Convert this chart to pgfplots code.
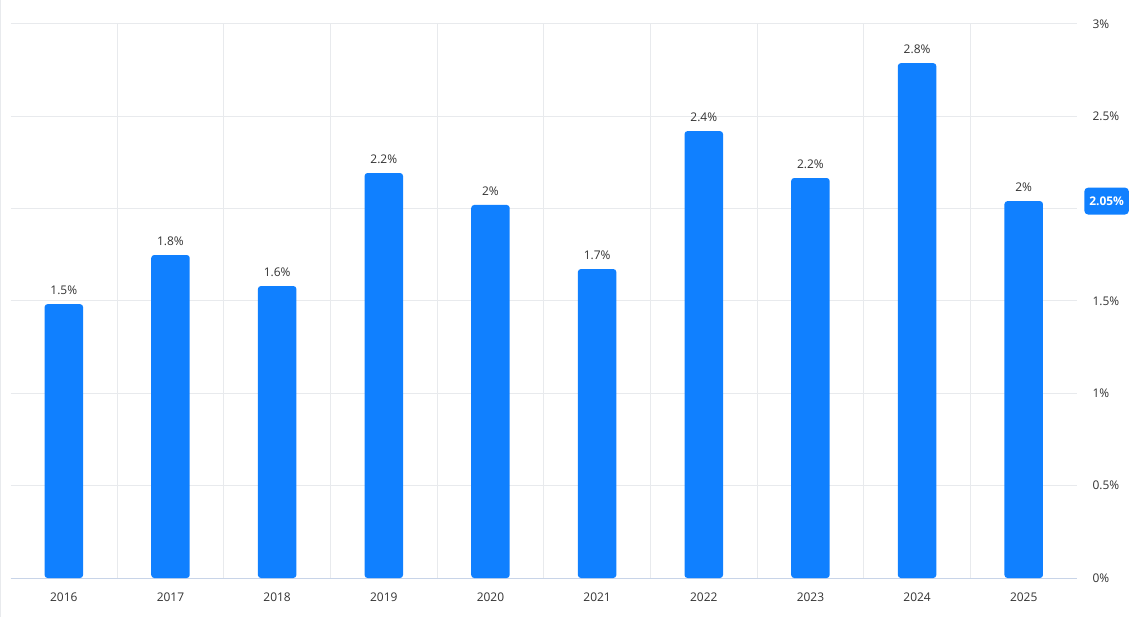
\documentclass[border=0pt]{standalone}
\usepackage{pgfplots}
\pgfplotsset{compat=1.18}
\usepackage{fontspec}
\setmainfont{Open Sans}
\definecolor{barblue}{RGB}{16,128,255}
\definecolor{gridc}{RGB}{232,234,237}
\definecolor{axc}{RGB}{200,212,232}
\definecolor{txt}{RGB}{51,51,51}
\begin{document}
\begin{tikzpicture}
\path[use as bounding box, fill=white] (0,0) rectangle (1132bp,617bp);
\draw[gridc, line width=1bp] (0.5bp,0) -- (0.5bp,617bp);
\begin{axis}[
  at={(10.5bp,39bp)}, anchor=south west,
  scale only axis, width=1066.5bp, height=554bp,
  xmin=-0.5, xmax=9.5, ymin=0, ymax=3,
  axis x line*=bottom, axis y line*=right,
  x axis line style={axc, line width=1bp, -},
  y axis line style={draw=none},
  xtick={0,...,9}, xticklabels={2016,2017,2018,2019,2020,2021,2022,2023,2024,2025},
  minor xtick={0.5,1.5,...,8.5},
  xminorgrids=true, xmajorgrids=false,
  minor x grid style={gridc, line width=1bp},
  major tick length=0pt, minor tick length=0pt,
  xticklabel style={font=\fontsize{12}{14}\selectfont, text=txt, yshift=-11bp},
  ytick={0,0.5,1,1.5,2,2.5,3},
  yticklabels={0\%,0.5\%,1\%,1.5\%,,2.5\%,3\%},
  ymajorgrids=true,
  major y grid style={gridc, line width=1bp},
  yticklabel pos=right,
  yticklabel style={font=\fontsize{12}{14}\selectfont, text=txt, anchor=west, xshift=12bp},
  ybar, bar width=38.5bp,
  nodes near coords={\pgfplotspointmeta},
  point meta=explicit symbolic,
  nodes near coords style={font=\fontsize{12}{14}\selectfont, text=txt, anchor=south, inner sep=0pt, yshift=9bp},
  clip=false,
]
\addplot[fill=barblue, draw=none, rounded corners=3bp] table[meta=label] {
x y label
0 1.483 1.5\%
1 1.749 1.8\%
2 1.581 1.6\%
3 2.193 2.2\%
4 2.020 2\%
5 1.673 1.7\%
6 2.420 2.4\%
7 2.166 2.2\%
8 2.788 2.8\%
9 2.041 2\%
};
\node[fill=barblue, text=white, rounded corners=4bp, anchor=west, inner xsep=5bp, minimum height=27bp, font=\fontsize{12}{14}\selectfont\bfseries] at (axis cs:9.5,2.041) [xshift=7bp] {2.05\%};
\end{axis}
\end{tikzpicture}
\end{document}
